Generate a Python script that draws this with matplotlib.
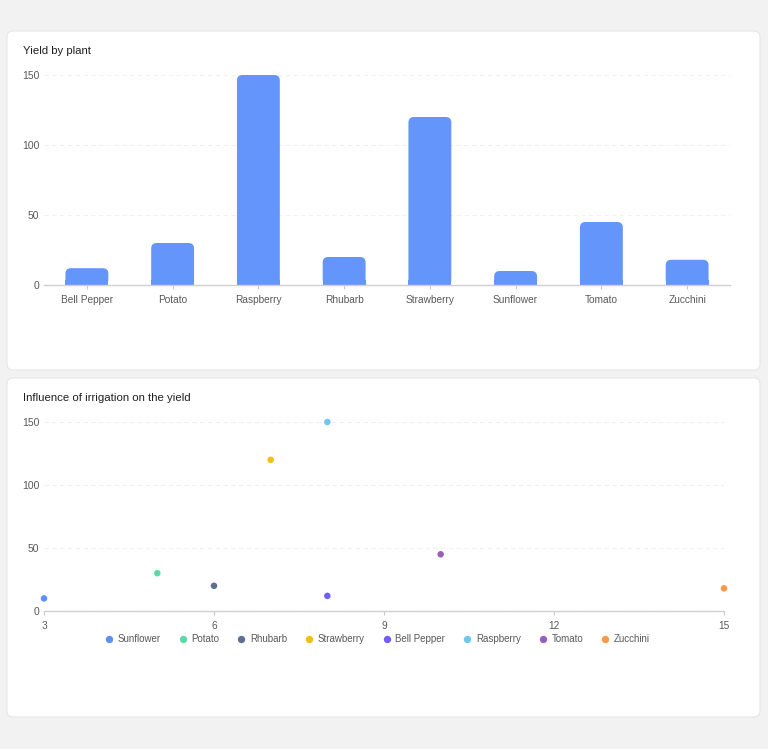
import matplotlib
matplotlib.use("Agg")
import matplotlib.pyplot as plt
from matplotlib.patches import FancyBboxPatch, Rectangle
from matplotlib.lines import Line2D

plt.rcParams['font.family'] = ['Liberation Sans', 'DejaVu Sans']

# ── data ──
plants = ["Bell Pepper", "Potato", "Raspberry", "Rhubarb",
          "Strawberry", "Sunflower", "Tomato", "Zucchini"]
yield_vals = [12, 30, 150, 20, 120, 10, 45, 18]

sc_names = ["Sunflower", "Potato", "Rhubarb", "Strawberry",
            "Bell Pepper", "Raspberry", "Tomato", "Zucchini"]
sc_irrigation = [3, 5, 6, 7, 8, 8, 10, 15]
sc_yield = [10, 30, 20, 120, 12, 150, 45, 18]
sc_colors = ['#5B8FF9', '#5AD8A6', '#5D7092', '#F6BD16',
             '#6F5EF9', '#6DC8EC', '#945FB9', '#FF9845']

y_ticks = [0, 50, 100, 150]
x_ticks = [3, 6, 9, 12, 15]

W, H = 768, 749
fig = plt.figure(figsize=(W / 100, H / 100), dpi=100)
fig.patch.set_facecolor('#f2f2f2')

def px_box(x0, y0, x1, y1):
    # pixel box (top-left origin) -> figure fraction [l, b, w, h]
    return [x0 / W, 1 - y1 / H, (x1 - x0) / W, (y1 - y0) / H]

# ── cards ──
for (x0, y0, x1, y1) in [(7, 31, 760, 370), (7, 378, 760, 717)]:
    l, b, w, h = px_box(x0, y0, x1, y1)
    fig.patches.append(FancyBboxPatch((l, b), w, h,
                       boxstyle="round,pad=0,rounding_size=0.008",
                       transform=fig.transFigure, facecolor='white',
                       edgecolor='#e6e6e6', lw=0.8, zorder=-5))

fig.text(23 / W, 1 - 51 / H, "Yield by plant", fontsize=8.2,
         color='#1f1f1f', va='center', ha='left')
fig.text(23 / W, 1 - 398 / H, "Influence of irrigation on the yield",
         fontsize=8.2, color='#1f1f1f', va='center', ha='left')

def style_axes(ax):
    ax.set_zorder(2)
    ax.set_facecolor('none')
    for s in ['top', 'right', 'left']:
        ax.spines[s].set_visible(False)
    ax.spines['bottom'].set_color('#d0d0d0')
    ax.spines['bottom'].set_linewidth(1.0)
    ax.set_yticks(y_ticks)
    ax.tick_params(axis='y', length=0, pad=3.5, labelsize=7.5, labelcolor='#595959')
    ax.tick_params(axis='x', length=3, color='#c8c8c8', pad=4,
                   labelsize=7.3, labelcolor='#595959')
    ax.grid(axis='y', color='#f0f0f0', lw=0.8, ls=(0, (4, 3)))
    ax.set_axisbelow(True)

# ── bar chart ──
ax1 = fig.add_axes(px_box(44, 75, 730, 285))
style_axes(ax1)
ax1.set_xlim(-0.5, len(plants) - 0.5)
ax1.set_ylim(0, 150)
bars = ax1.bar(range(len(plants)), yield_vals, width=0.5, color='#6395FA')
# data units per pixel, used to round only the top corners
xpp = len(plants) / 686
ypp = 150 / 210
r_px = 5.5
for b in bars:
    x, y, w, h = b.get_x(), b.get_y(), b.get_width(), b.get_height()
    b.remove()
    ax1.add_patch(FancyBboxPatch((x, y), w, h,
                  boxstyle=f"round,pad=0,rounding_size={r_px * xpp}",
                  mutation_aspect=ypp / xpp, facecolor='#6395FA',
                  edgecolor='none', clip_on=False, zorder=2))
    ax1.add_patch(Rectangle((x, y), w, min(h, r_px * ypp), facecolor='#6395FA',
                  edgecolor='none', clip_on=False, zorder=2))
ax1.set_xticks(range(len(plants)))
ax1.set_xticklabels(plants)

# ── scatter ──
ax2 = fig.add_axes(px_box(44, 422, 724, 611))
style_axes(ax2)
ax2.set_xlim(3, 15)
ax2.set_ylim(0, 150)
ax2.set_xticks(x_ticks)
for xv, yv, c, n in zip(sc_irrigation, sc_yield, sc_colors, sc_names):
    ax2.scatter([xv], [yv], s=22, color=c, edgecolors='none',
                clip_on=False, zorder=3, label=n)

handles = [Line2D([], [], marker='o', ls='none', markersize=5.3,
                  markerfacecolor=c, markeredgecolor='none')
           for c in sc_colors]
fig.legend(handles, sc_names, loc='center', ncol=8,
           bbox_to_anchor=(377 / W, 1 - 639 / H), frameon=False,
           fontsize=7.0, labelcolor='#595959', handletextpad=0.4,
           columnspacing=1.75, handlelength=1.0)

fig.savefig('out.png', dpi=100, facecolor=fig.get_facecolor())
